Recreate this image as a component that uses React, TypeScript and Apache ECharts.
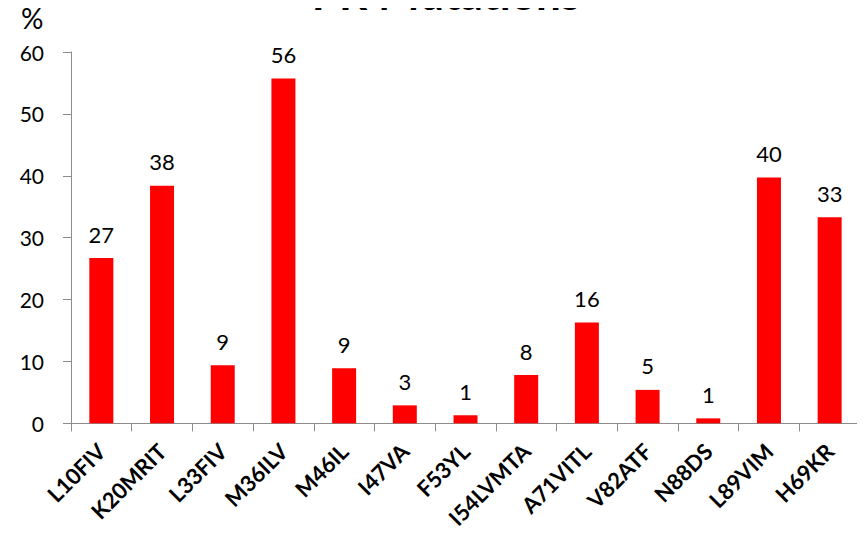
import React, { useEffect, useRef } from "react";
import * as echarts from "echarts";

// PR (protease) resistance mutations and their prevalence in percent
const mutations = [
  "L10FIV", "K20MRIT", "L33FIV", "M36ILV", "M46IL", "I47VA", "F53YL",
  "I54LVMTA", "A71VITL", "V82ATF", "N88DS", "L89VIM", "H69KR",
];
const prevalence = [26.7, 38.4, 9.4, 55.7, 8.9, 2.9, 1.3, 7.8, 16.3, 5.4, 0.8, 39.7, 33.3];
const yTicks = { min: 0, max: 60, interval: 10 };

const FONT = "Lato, 'Open Sans', sans-serif";
const AXIS_GREY = "#8c8c8c";

export default function App() {
  const ref = useRef<HTMLDivElement>(null);

  useEffect(() => {
    if (!ref.current) return;
    const chart = echarts.init(ref.current, null, { renderer: "svg" });
    chart.setOption({
      animation: false,
      backgroundColor: "#ffffff",
      textStyle: { fontFamily: FONT },
      grid: { left: 71, right: 5, top: 52, bottom: 116.7, containLabel: false },
      graphic: [
        {
          type: "text",
          x: 446,
          y: -7,
          style: {
            text: "PR Mutations",
            font: `bold 44px ${FONT}`,
            fill: "#000",
            align: "center",
            verticalAlign: "middle",
          },
        },
        {
          type: "text",
          x: 21,
          y: 4,
          style: { text: "%", font: `28px ${FONT}`, fill: "#000" },
        },
      ],
      xAxis: {
        type: "category",
        data: mutations,
        boundaryGap: true,
        axisLine: { lineStyle: { color: AXIS_GREY, width: 1 } },
        axisTick: { show: true, length: 8, alignWithLabel: false, lineStyle: { color: AXIS_GREY } },
        axisLabel: {
          interval: 0,
          rotate: 45,
          margin: 24,
          color: "#000",
          fontWeight: "bold",
          fontSize: 22,
          fontFamily: FONT,
        },
      },
      yAxis: {
        type: "value",
        min: yTicks.min,
        max: yTicks.max,
        interval: yTicks.interval,
        splitLine: { show: false },
        axisLine: { show: true, lineStyle: { color: AXIS_GREY, width: 1 } },
        axisTick: { show: true, length: 8, inside: false, lineStyle: { color: AXIS_GREY } },
        axisLabel: { color: "#000", fontSize: 21, margin: 27, fontFamily: FONT },
      },
      series: [
        {
          type: "bar",
          data: prevalence,
          barWidth: 24,
          itemStyle: { color: "#ff0000" },
          label: {
            show: true,
            position: "top",
            distance: 13,
            color: "#000",
            fontSize: 22,
            fontFamily: FONT,
            formatter: (p: any) => String(Math.round(p.value)),
          },
        },
      ],
    });
    return () => chart.dispose();
  }, []);

  return <div ref={ref} style={{ width: 865, height: 540, margin: -8 }} />;
}
